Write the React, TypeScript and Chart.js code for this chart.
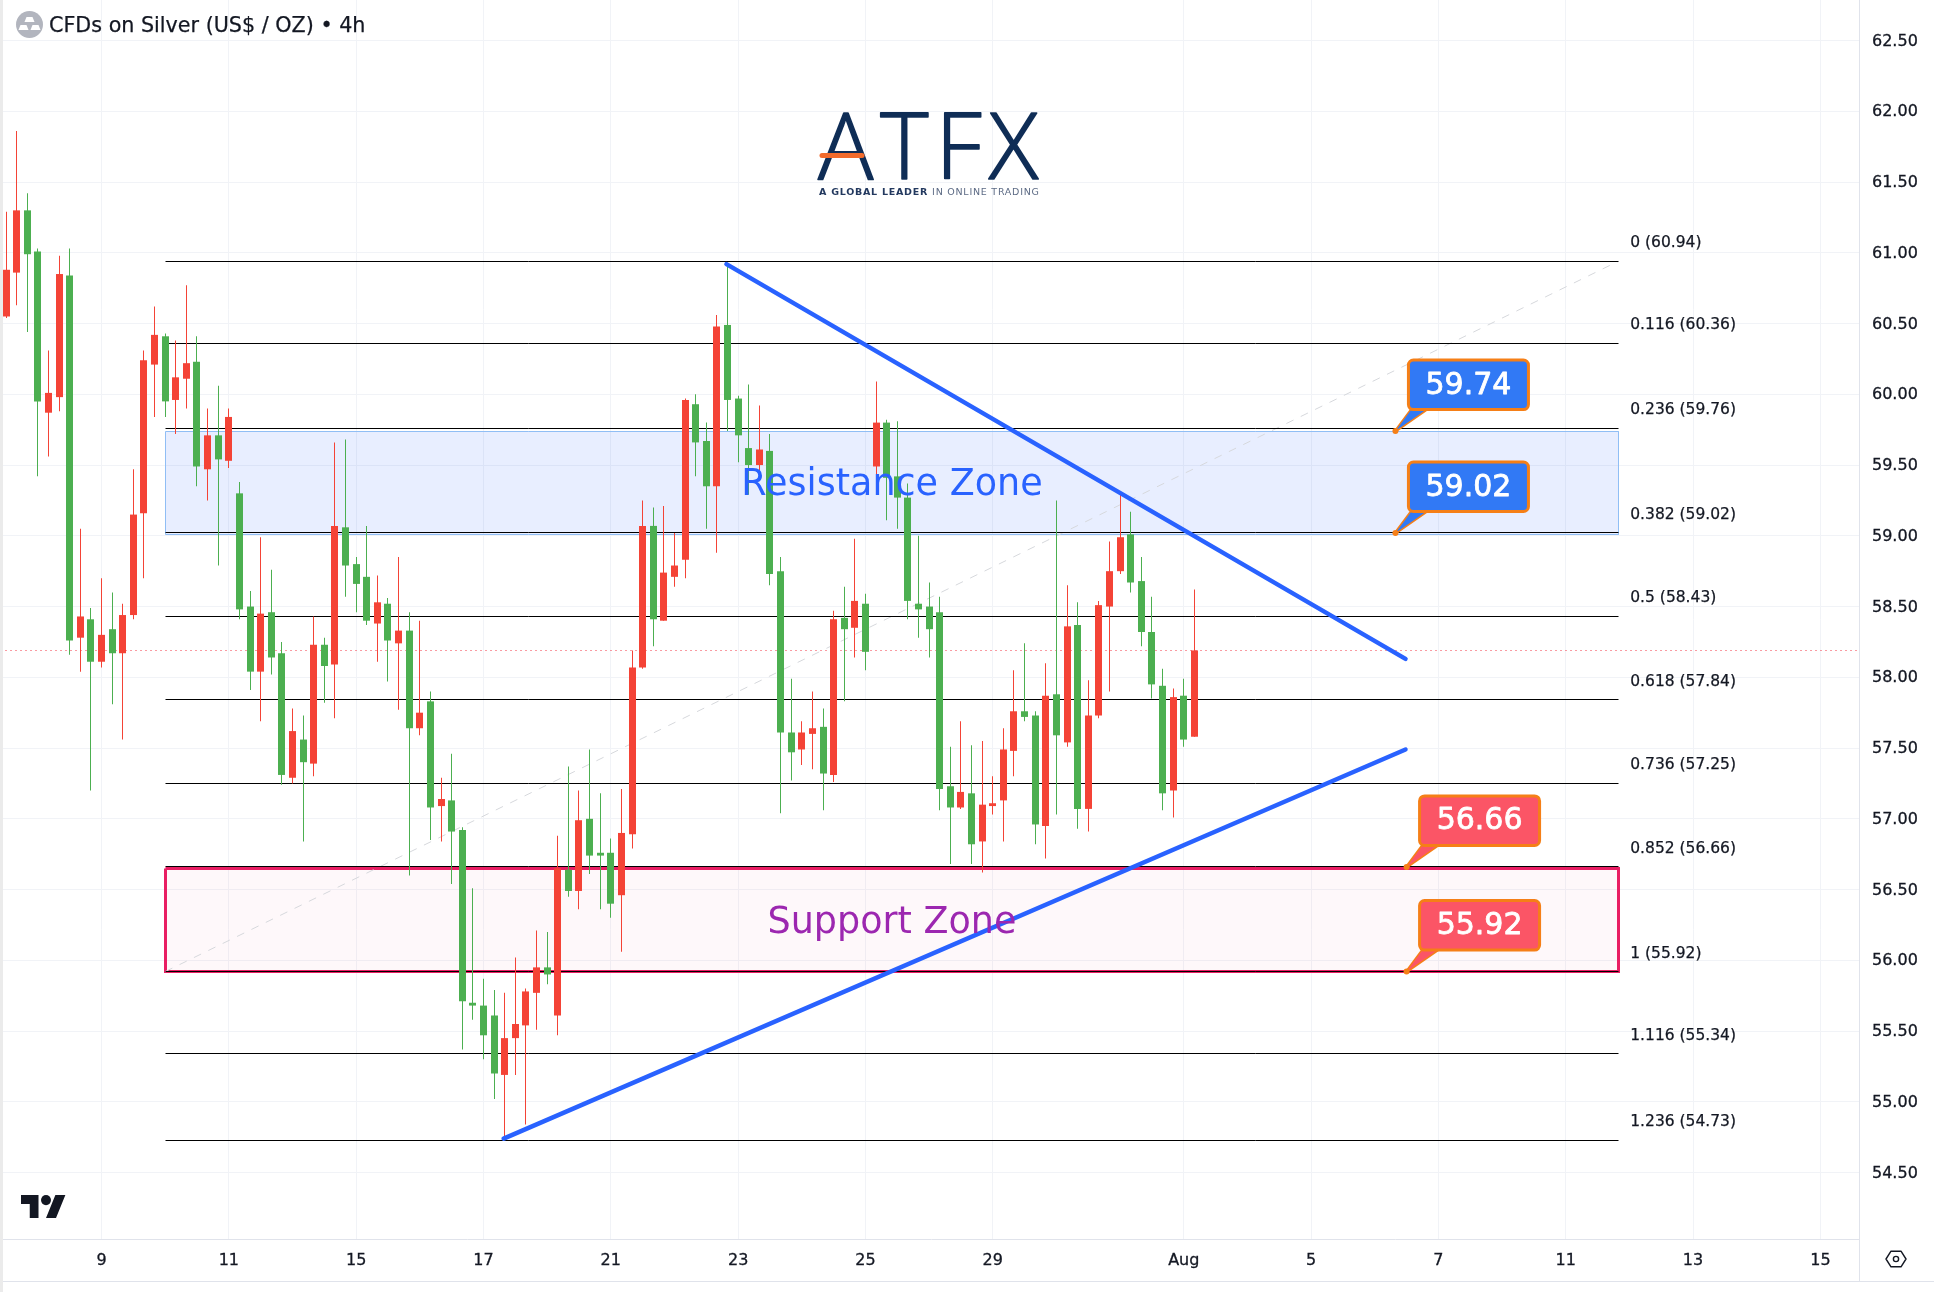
import React, { useEffect, useRef } from "react";
import { Chart, registerables } from "chart.js";

Chart.register(...registerables);

const opens = [60.55,60.86,61.30,61.01,59.87,59.98,60.84,58.28,58.41,58.11,58.34,58.17,58.44,59.16,60.21,60.41,59.96,60.11,60.23,59.47,59.71,59.53,59.30,58.50,58.04,58.46,58.17,57.29,57.56,57.39,58.23,58.09,59.06,58.80,58.71,58.38,58.52,58.24,58.33,57.64,57.83,57.09,57.13,56.92,55.70,55.68,55.61,55.19,55.45,55.54,55.77,55.95,55.61,56.64,56.49,57.00,56.76,56.76,56.46,56.89,58.07,59.07,58.40,58.71,58.83,59.93,59.67,59.35,60.49,59.97,59.62,59.50,59.60,58.75,57.61,57.49,57.60,57.65,57.31,58.42,58.35,58.52,59.49,59.80,59.42,59.27,58.52,58.50,58.46,57.23,57.08,57.18,56.84,57.09,57.13,57.48,57.76,57.73,56.95,57.88,57.54,58.37,57.07,57.73,58.50,58.75,59.01,58.68,58.32,57.94,57.20,57.87,57.58];
const highs = [61.29,61.86,61.42,61.03,60.31,60.98,61.03,59.05,58.49,58.70,58.60,58.52,59.47,60.31,60.62,60.43,60.38,60.77,60.41,59.90,60.06,59.90,59.38,58.61,58.99,58.76,58.25,57.78,57.73,58.43,58.28,59.66,59.68,58.85,59.07,58.72,58.56,58.85,58.46,58.40,57.90,57.29,57.46,56.94,56.51,55.87,55.79,55.77,56.02,55.80,56.21,56.20,56.88,57.37,57.20,57.49,57.18,56.86,57.21,58.19,59.25,59.20,59.21,59.02,59.97,60.00,59.80,60.56,60.93,59.99,60.07,59.92,59.72,58.85,57.99,57.69,57.90,57.78,58.47,58.64,58.98,58.59,60.09,59.82,59.81,59.37,59.00,58.67,58.57,57.51,57.69,57.52,57.55,57.30,57.64,58.05,58.24,57.76,58.10,59.25,58.65,58.53,57.98,58.54,58.96,59.31,59.17,58.85,58.57,58.06,57.92,57.99,58.62];
const lows = [60.54,60.63,60.44,59.42,59.56,59.88,58.16,58.04,57.20,58.07,57.81,57.56,58.41,58.70,59.84,59.84,59.72,59.90,59.35,59.25,58.79,59.48,58.41,57.91,57.69,58.02,57.24,57.25,56.84,57.30,57.82,57.71,58.57,58.46,58.37,58.11,57.97,57.77,56.60,57.59,56.85,56.84,56.54,55.37,55.58,55.30,55.02,54.74,55.19,54.84,55.51,55.83,55.47,56.45,56.36,56.61,56.36,56.30,56.06,56.79,58.06,58.22,58.40,58.64,58.70,59.42,59.05,58.88,59.74,59.52,59.29,59.41,58.65,57.04,57.27,57.38,57.35,57.06,57.26,57.83,58.14,58.05,59.29,59.11,59.05,58.41,58.28,58.14,57.06,56.68,57.07,56.68,56.62,57.03,56.84,57.30,57.69,56.82,56.72,57.03,57.51,56.93,56.91,57.71,57.90,58.73,58.60,58.22,57.85,57.06,57.01,57.51,57.58];
const closes = [60.88,61.30,60.99,59.95,60.01,60.85,58.26,58.43,58.11,58.30,58.17,58.44,59.15,60.24,60.42,59.95,60.12,60.22,59.49,59.71,59.54,59.84,58.48,58.04,58.45,58.14,57.31,57.62,57.40,58.23,58.08,59.07,58.79,58.66,58.40,58.53,58.26,58.33,57.64,57.75,57.08,57.14,56.91,55.71,55.68,55.47,55.20,55.45,55.55,55.78,55.95,55.90,56.65,56.49,56.99,56.74,56.74,56.40,56.90,58.07,59.07,58.41,58.74,58.79,59.96,59.66,59.35,60.48,59.96,59.71,59.50,59.61,58.73,57.61,57.47,57.61,57.64,57.32,58.41,58.34,58.54,58.18,59.80,59.41,59.27,58.54,58.48,58.34,57.21,57.08,57.19,56.82,57.10,57.11,57.49,57.76,57.72,56.96,57.87,57.59,58.36,57.07,57.73,58.51,58.75,58.99,58.67,58.32,57.95,57.18,57.86,57.56,58.19];

const xTickValues = [9,21,33,45,57,69,81,93,111,123,135,147,159,171];
const xTickLabels = ["9","11","15","17","21","23","25","29","Aug","5","7","11","13","15"];
const yTickValues = [54.5,55,55.5,56,56.5,57,57.5,58,58.5,59,59.5,60,60.5,61,61.5,62,62.5];

const fibRatios = ["0","0.116","0.236","0.382","0.5","0.618","0.736","0.852","1","1.116","1.236"];
const fibPrices = [60.94,60.36,59.76,59.02,58.43,57.84,57.25,56.66,55.92,55.34,54.73];
const fibStart = 15;
const fibEnd = 151.95;

const resistanceZone = [59.74, 59.01];
const supportZone = [56.65, 55.92];
const resistanceTrend = [{ x: 67.9, y: 60.92 }, { x: 131.9, y: 58.13 }];
const supportTrend = [{ x: 46.9, y: 54.74 }, { x: 131.9, y: 57.49 }];
const fibDiagonal = [{ x: 15, y: 55.92 }, { x: 151.95, y: 60.94 }];
const lastPrice = 58.19;

const calloutTexts = ["59.74", "59.02", "56.66", "55.92"];
const calloutX = [130.95, 130.95, 132, 132];
const calloutY = [59.74, 59.02, 56.66, 55.92];
const calloutFills = ["#3179f5", "#3179f5", "#fb5566", "#fb5566"];

const zoneLabels = ["Resistance Zone", "Support Zone"];
const zoneLabelX = [83.5, 83.5];
const zoneLabelY = [59.355, 56.26];
const zoneLabelColors = ["#2962ff", "#9c27b0"];

const titleText = "CFDs on Silver (US$ / OZ) \u2022 4h";

const FONT = '"DejaVu Sans"';
const INK = "#131722";
const RED = "#f44336";
const GREEN = "#4caf50";
const GRID = "#f1f3f7";
const AXIS = "#e0e3eb";
const UP = (i: number) => closes[i] >= opens[i];

const bodies = opens.map((o, i) => ({ x: i, y: [o, closes[i]] }));
const wicks = lows.map((l, i) => ({ x: i, y: [l, highs[i]] }));
const candleColors = opens.map((_, i) => (UP(i) ? RED : GREEN));

const rectPath = (z: number[]) => [
  { x: fibStart, y: z[0] },
  { x: fibEnd, y: z[0] },
  { x: fibEnd, y: z[1] },
  { x: fibStart, y: z[1] },
  { x: fibStart, y: z[0] },
];

const lineBase = { type: "line", pointRadius: 0, tension: 0, fill: false };

const rounded = (ctx: any, x: number, y: number, w: number, h: number, r: number) => {
  ctx.beginPath();
  ctx.roundRect(x, y, w, h, r);
};

const pixelSnap = {
  id: "pixelSnap",
  afterDatasetsUpdate(chart: any) {
    chart.data.datasets.forEach((d: any, i: number) => {
      const els = chart.getDatasetMeta(i).data;
      if (d.type === "bar") {
        els.forEach((el: any) => {
          el.x = Math.round(el.x - 0.5) + 0.5;
        });
      } else if (d.snap) {
        els.forEach((el: any) => {
          el.y = Math.round(el.y - 0.5) + 0.5;
          el.x = Math.round(el.x - 0.5) + 0.5;
        });
      }
    });
  },
};

const heavy = (ctx: any, t: string, x: number, y: number, w: number) => {
  ctx.lineWidth = w;
  ctx.strokeStyle = ctx.fillStyle;
  ctx.lineJoin = "round";
  ctx.strokeText(t, x, y);
  ctx.fillText(t, x, y);
};

const overlay = {
  id: "overlay",
  afterDatasetsDraw(chart: any) {
    const { ctx, scales } = chart;
    const { x, y } = scales;
    ctx.save();
    ctx.textBaseline = "middle";

    // Fib labels
    ctx.font = `15.5px ${FONT}`;
    ctx.fillStyle = INK;
    ctx.textAlign = "left";
    fibRatios.forEach((r, i) => {
      heavy(ctx, `${r} (${fibPrices[i].toFixed(2)})`, x.getPixelForValue(fibEnd) + 12, y.getPixelForValue(fibPrices[i]) - 18, 0.25);
    });

    // Zone labels
    ctx.textAlign = "center";
    ctx.font = `36.5px ${FONT}`;
    zoneLabels.forEach((t, i) => {
      ctx.fillStyle = zoneLabelColors[i];
      ctx.fillText(t, x.getPixelForValue(zoneLabelX[i]), y.getPixelForValue(zoneLabelY[i]));
    });

    // Callouts
    calloutTexts.forEach((t, i) => {
      const ax = x.getPixelForValue(calloutX[i]);
      const ay = y.getPixelForValue(calloutY[i]);
      const bx = ax + 13;
      const by = ay - 71;
      const bw = 120;
      const bh = 49.5;
      ctx.lineJoin = "round";
      ctx.strokeStyle = "#f57f17";
      ctx.lineWidth = 3;
      ctx.fillStyle = calloutFills[i];
      ctx.beginPath();
      ctx.moveTo(ax + 16, by + bh);
      ctx.lineTo(ax, ay);
      ctx.lineTo(ax + 31, by + bh);
      ctx.closePath();
      ctx.stroke();
      ctx.fill();
      rounded(ctx, bx, by, bw, bh, 5);
      ctx.fill();
      ctx.stroke();
      ctx.fillStyle = "#f57f17";
      ctx.beginPath();
      ctx.arc(ax, ay, 3, 0, Math.PI * 2);
      ctx.fill();
      ctx.fillStyle = "#ffffff";
      ctx.font = `30px ${FONT}`;
      ctx.textAlign = "center";
      heavy(ctx, t, bx + bw / 2, by + bh / 2 + 1, 0.8);
    });
    ctx.restore();
  },
  afterDraw(chart: any) {
    const { ctx } = chart;
    ctx.save();
    // Frame
    ctx.fillStyle = "#ebebeb";
    ctx.fillRect(0, 0, 3, 1292);
    ctx.fillStyle = AXIS;
    ctx.fillRect(3, 1281, 1931, 1);
    ctx.fillRect(1859, 1239, 1, 42);

    // Symbol badge
    ctx.fillStyle = "#b2b5be";
    ctx.beginPath();
    ctx.arc(29.5, 24.5, 13.5, 0, Math.PI * 2);
    ctx.fill();
    ctx.fillStyle = "#ffffff";
    const bar = (cx: number, cy: number) => {
      ctx.beginPath();
      ctx.moveTo(cx - 3, cy - 3);
      ctx.lineTo(cx + 3, cy - 3);
      ctx.lineTo(cx + 5, cy + 2);
      ctx.lineTo(cx - 5, cy + 2);
      ctx.closePath();
      ctx.fill();
    };
    bar(29.5, 20);
    bar(23.5, 28);
    bar(35.5, 28);

    // Title
    ctx.fillStyle = INK;
    ctx.font = `20.7px ${FONT}`;
    ctx.textAlign = "left";
    ctx.textBaseline = "middle";
    heavy(ctx, titleText, 49, 27, 0.25);

    // Logo
    ctx.fillStyle = "#0f2d56";
    ctx.font = `300 92px "Open Sans"`;
    ctx.textAlign = "left";
    ctx.textBaseline = "alphabetic";
    (ctx as any).letterSpacing = "7px";
    heavy(ctx, "ATFX", 818, 179, 1.6);
    (ctx as any).letterSpacing = "0px";
    ctx.strokeStyle = "#f26b2c";
    ctx.lineWidth = 5;
    ctx.lineCap = "round";
    ctx.beginPath();
    ctx.moveTo(822, 155.5);
    ctx.lineTo(862, 155.5);
    ctx.stroke();
    ctx.lineCap = "butt";
    ctx.textBaseline = "middle";
    (ctx as any).letterSpacing = "0.75px";
    ctx.font = `bold 9.5px ${FONT}`;
    ctx.fillStyle = "#23395f";
    const lead = "A GLOBAL LEADER ";
    ctx.fillText(lead, 819, 193);
    const w = ctx.measureText(lead).width;
    ctx.font = `9.5px ${FONT}`;
    ctx.fillStyle = "#5d6b85";
    ctx.fillText("IN ONLINE TRADING", 819 + w, 193);
    (ctx as any).letterSpacing = "0px";

    // TradingView mark
    ctx.save();
    ctx.translate(21, 1195);
    ctx.scale(45 / 36, 23 / 18);
    ctx.translate(0, -4);
    ctx.fillStyle = "#131722";
    ctx.fill(new Path2D("M14 22H7V11H0V4h14v18zM28 22h-8l7.5-18h8L28 22z"));
    ctx.beginPath();
    ctx.arc(20, 8, 4, 0, Math.PI * 2);
    ctx.fill();
    ctx.restore();

    // Settings icon
    ctx.strokeStyle = INK;
    ctx.lineWidth = 1.4;
    ctx.beginPath();
    const cx = 1896, cy = 1259;
    for (let k = 0; k < 6; k++) {
      const a = Math.PI / 3 * k;
      const px = cx + 10 * Math.cos(a);
      const py = cy + 9 * Math.sin(a);
      if (k === 0) ctx.moveTo(px, py); else ctx.lineTo(px, py);
    }
    ctx.closePath();
    ctx.stroke();
    ctx.beginPath();
    ctx.arc(cx, cy, 2.6, 0, Math.PI * 2);
    ctx.stroke();
    ctx.restore();
  },
};

export default function App() {
  const ref = useRef<HTMLCanvasElement>(null);
  useEffect(() => {
    document.body.style.margin = "0";
    const fibSets = fibPrices.map((p) => ({
      ...lineBase,
      label: `fib ${p}`,
      data: [{ x: fibStart, y: p }, { x: fibEnd, y: p }],
      borderColor: "#000000",
      borderWidth: 1,
      snap: true,
      order: 50,
    }));
    const chart = new Chart(ref.current as HTMLCanvasElement, {
      type: "bar",
      data: {
        datasets: [
          {
            type: "bar", label: "bodies", data: bodies, backgroundColor: candleColors,
            barThickness: 7, grouped: false, borderWidth: 0, inflateAmount: 0, order: 20,
          },
          {
            type: "bar", label: "wicks", data: wicks, backgroundColor: candleColors,
            barThickness: 1, grouped: false, borderWidth: 0, inflateAmount: 0, order: 30,
          },
          { ...lineBase, label: "resistance trend", data: resistanceTrend, borderColor: "#2962ff", borderWidth: 4.5, borderCapStyle: "round", order: 10 },
          { ...lineBase, label: "support trend", data: supportTrend, borderColor: "#2962ff", borderWidth: 4.5, borderCapStyle: "round", order: 11 },
          { ...lineBase, label: "last", data: [{ x: -1, y: lastPrice }, { x: 175, y: lastPrice }], borderColor: "#f23645", borderWidth: 1, borderDash: [1, 4], snap: true, order: 45 },
          ...fibSets,
          { ...lineBase, label: "diag", data: fibDiagonal, borderColor: "#d6d8dc", borderWidth: 1, borderDash: [8, 8], order: 55 },
          { ...lineBase, label: "res border", data: rectPath(resistanceZone), borderColor: "#90bef5", borderWidth: 1, snap: true, order: 58 },
          { ...lineBase, label: "sup border", data: rectPath(supportZone), borderColor: "#e91e63", borderWidth: 3, snap: true, order: 58 },
          {
            ...lineBase, label: "res fill", data: [{ x: fibStart, y: resistanceZone[0] }, { x: fibEnd, y: resistanceZone[0] }],
            fill: { value: resistanceZone[1] }, backgroundColor: "rgba(41,98,255,0.11)", borderWidth: 0, order: 60,
          },
          {
            ...lineBase, label: "sup fill", data: [{ x: fibStart, y: supportZone[0] }, { x: fibEnd, y: supportZone[0] }],
            fill: { value: supportZone[1] }, backgroundColor: "rgba(233,30,99,0.03)", borderWidth: 0, order: 60,
          },
        ] as any,
      },
      options: {
        responsive: false,
        animation: false,
        events: [],
        layout: { padding: { left: 3, right: 0, top: 0, bottom: 11 } },
        plugins: { legend: { display: false }, tooltip: { enabled: false } },
        scales: {
          x: {
            type: "linear",
            offset: false,
            min: -0.284,
            max: 174.64,
            afterBuildTicks: (s: any) => { s.ticks = xTickValues.map((v) => ({ value: v })); },
            afterFit: (s: any) => { s.height = 42; s.paddingLeft = 0; s.paddingRight = 0; },
            grid: { color: GRID, drawTicks: false, offset: false },
            border: { color: AXIS },
            ticks: {
              autoSkip: false, maxRotation: 0, padding: 12, color: INK,
              textStrokeColor: INK, textStrokeWidth: 0.3,
              font: { family: "DejaVu Sans", size: 16 },
              callback: (_: any, i: number) => xTickLabels[i],
            },
          },
          y: {
            type: "linear",
            position: "right",
            min: 54.0304,
            max: 62.7866,
            afterBuildTicks: (s: any) => { s.ticks = yTickValues.map((v) => ({ value: v })); },
            afterFit: (s: any) => { s.width = 75; s.paddingTop = 0; s.paddingBottom = 0; },
            grid: { color: GRID, drawTicks: false },
            border: { color: AXIS },
            ticks: {
              padding: 13, color: INK, labelOffset: 1,
              textStrokeColor: INK, textStrokeWidth: 0.3,
              font: { family: "DejaVu Sans", size: 16 },
              callback: (v: any) => Number(v).toFixed(2),
            },
          },
        },
      } as any,
      plugins: [pixelSnap, overlay],
    });
    return () => chart.destroy();
  }, []);
  return (
    <div style={{ position: "absolute", left: 0, top: 0, width: 1934, height: 1292, background: "#fff" }}>
      <canvas ref={ref} width={1934} height={1292} style={{ display: "block" }} />
    </div>
  );
}
